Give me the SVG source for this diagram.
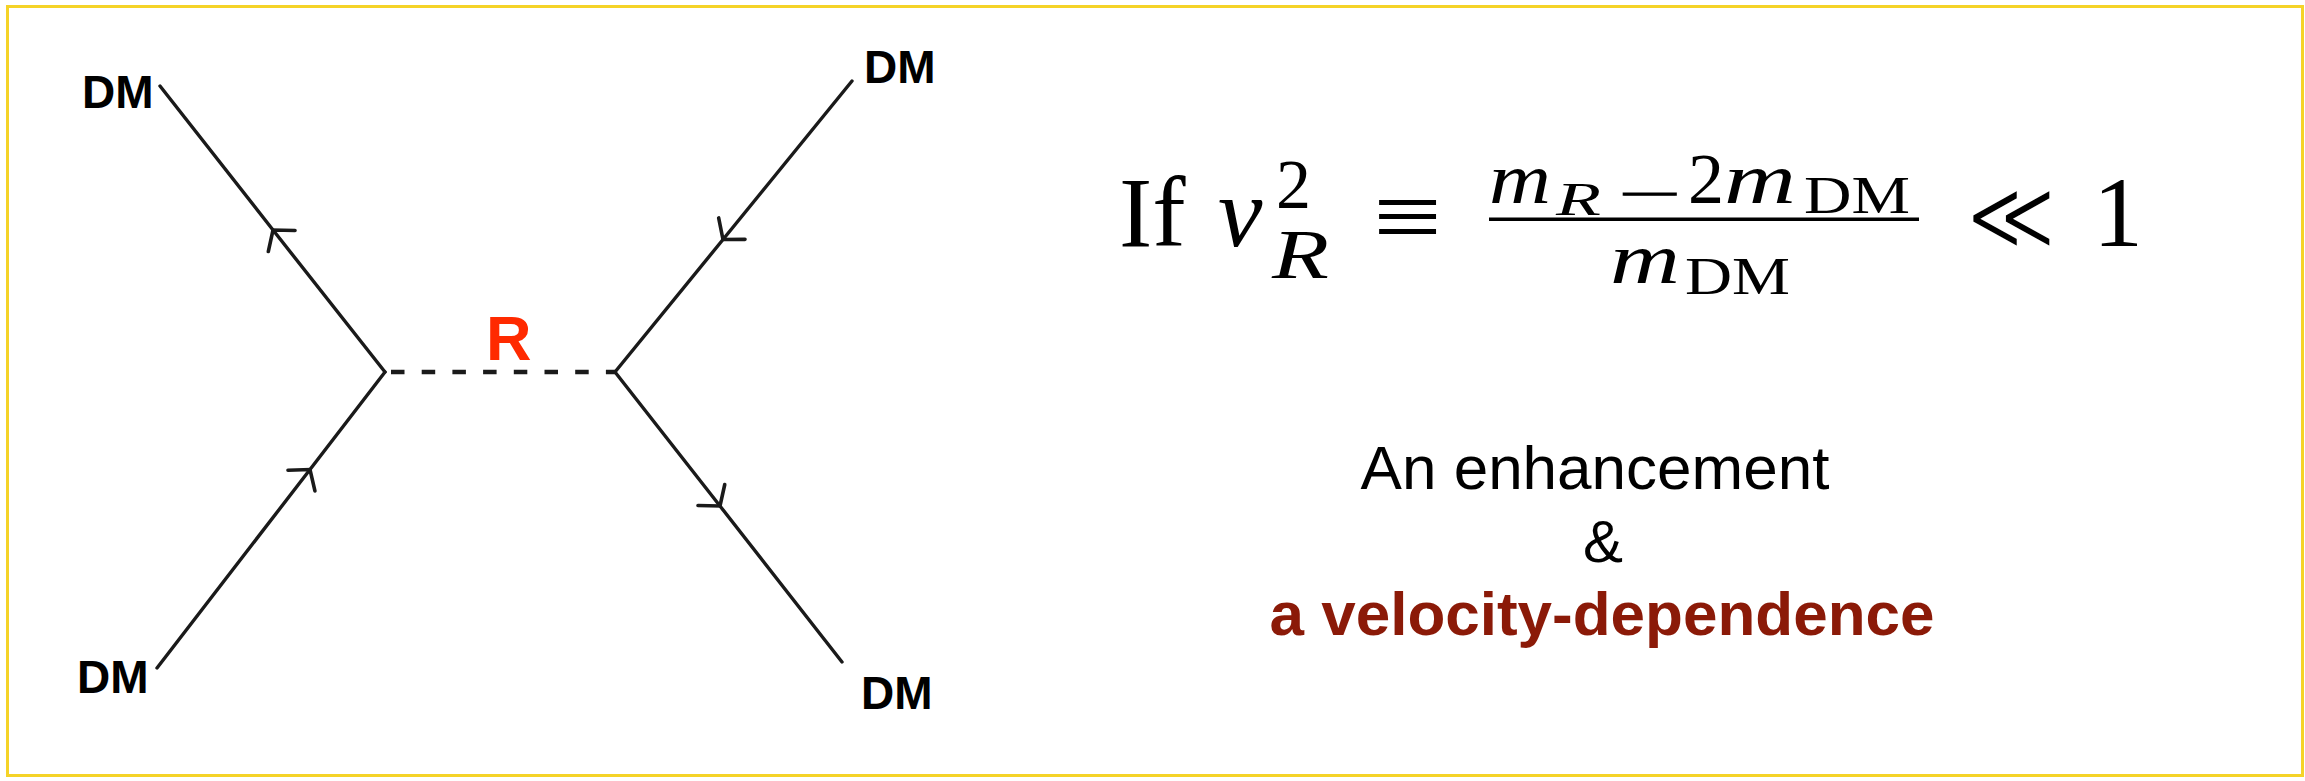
<svg xmlns="http://www.w3.org/2000/svg" width="2305" height="781" viewBox="0 0 2305 781">
<style>
.lbl{font-family:"Liberation Sans",Arial,sans-serif;font-weight:bold;font-size:46px;fill:#000}
.prop{fill:none;stroke:#1a1a1a;stroke-width:3.4;stroke-linecap:round}
.math{font-family:"Liberation Serif","DejaVu Serif",serif;fill:#000}
.it{font-style:italic}
.txt{font-family:"Liberation Sans",Arial,sans-serif;text-anchor:middle}
</style>
<defs>
<marker id="chev" markerUnits="userSpaceOnUse" orient="auto" refX="0" refY="0" markerWidth="40" markerHeight="40" overflow="visible">
<path d="M -14 -17 L 0 0 L -14 17" fill="none" stroke="#1a1a1a" stroke-width="3.6" stroke-linecap="round" stroke-linejoin="miter"/>
</marker>
</defs>
<rect x="7.5" y="6.5" width="2295" height="769" fill="#fff" stroke="#f5d328" stroke-width="3"/>
<g id="connectors">
<polyline class="prop" points="385,372 273,230 160,86" marker-mid="url(#chev)"/>
<polyline class="prop" points="157,668 310,469.5 385,372" marker-mid="url(#chev)"/>
<polyline class="prop" points="852,81 723,239.5 615,372" marker-mid="url(#chev)"/>
<polyline class="prop" points="615,372 720,506 842,662" marker-mid="url(#chev)"/>
<line x1="391" y1="372" x2="615" y2="372" stroke="#1a1a1a" stroke-width="4.5" stroke-dasharray="13.5 17.2"/>
</g>
<g id="node-dm-tl"><text class="lbl" x="82" y="108">DM</text></g>
<g id="node-dm-bl"><text class="lbl" x="77" y="693">DM</text></g>
<g id="node-dm-tr"><text class="lbl" x="864" y="83">DM</text></g>
<g id="node-dm-br"><text class="lbl" x="861" y="709">DM</text></g>
<g id="node-r"><text x="486" y="360" font-family="Liberation Sans,Arial,sans-serif" font-weight="bold" font-size="63" fill="#ff2a00">R</text></g>
<g id="formula">
<text class="math" x="1119" y="246" font-size="100">If</text>
<text class="math it" x="1218" y="246" font-size="100">v</text>
<text class="math" x="1276" y="208" font-size="70">2</text>
<text class="math it" x="1272" y="278" font-size="70" textLength="57" lengthAdjust="spacingAndGlyphs">R</text>
<text class="math" x="1373" y="250" font-size="100" textLength="69" lengthAdjust="spacingAndGlyphs">≡</text>
<rect x="1489" y="217.5" width="430" height="3.5" fill="#000"/>
<text class="math it" x="1489" y="203" font-size="72" textLength="62" lengthAdjust="spacingAndGlyphs">m</text>
<text class="math it" x="1556" y="215" font-size="46" textLength="45" lengthAdjust="spacingAndGlyphs">R</text>
<text class="math" x="1619" y="209" font-size="44" textLength="62" lengthAdjust="spacingAndGlyphs" stroke="#000" stroke-width="1.2">−</text>
<text class="math" x="1688" y="203" font-size="72">2</text>
<text class="math it" x="1724" y="203" font-size="72" textLength="72" lengthAdjust="spacingAndGlyphs">m</text>
<text class="math" x="1804" y="213" font-size="52" textLength="106" lengthAdjust="spacingAndGlyphs">DM</text>
<text class="math it" x="1610" y="283" font-size="72" textLength="70" lengthAdjust="spacingAndGlyphs">m</text>
<text class="math" x="1685" y="294" font-size="52" textLength="105" lengthAdjust="spacingAndGlyphs">DM</text>
<text x="1966" y="250" font-family="DejaVu Serif,serif" font-size="100" textLength="91" lengthAdjust="spacingAndGlyphs" fill="#000" stroke="#fff" stroke-width="2.5">≪</text>
<text class="math" x="2093" y="246" font-size="100">1</text>
</g>
<g id="caption">
<text class="txt" x="1595" y="489" font-size="62">An enhancement</text>
<text class="txt" x="1603" y="562" font-size="60">&amp;</text>
<text class="txt" x="1602" y="635" font-size="62" font-weight="bold" fill="#8b1a08">a velocity-dependence</text>
</g>
</svg>
